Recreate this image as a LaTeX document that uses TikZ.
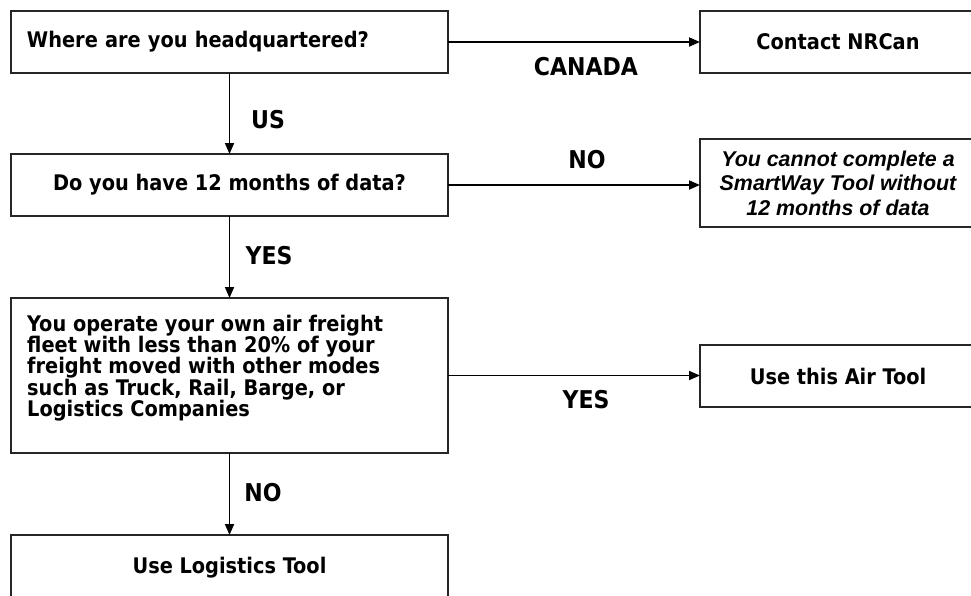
\documentclass[tikz,border=0pt]{standalone}
\usepackage{fontspec}
\setmainfont{DejaVu Sans Condensed}
\newfontfamily\itfont{Liberation Sans}
\usetikzlibrary{arrows.meta}
\begin{document}
\begin{tikzpicture}[x=1pt,y=-1pt,
  box/.style={draw=black!85, line width=1.7pt, fill=white, inner sep=0pt, outer sep=0pt,
    font=\bfseries\fontsize{21.5}{21.3}\selectfont},
  txt/.style={font=\bfseries\fontsize{21.5}{21.3}\selectfont, inner sep=0pt, align=left},
  lbl/.style={font=\bfseries\fontsize{24.5}{26}\selectfont, inner sep=0pt},
  arr/.style={line width=1.8pt, -{Triangle[length=11pt,width=9pt]}}]
\useasboundingbox (0,0) rectangle (971,595);
\fill[white] (0,0) rectangle (971,595);
\clip (0,0) rectangle (971,595);
% left column
\node[box, minimum width=437pt, minimum height=62pt, text width=405pt, align=left] (hq) at (229.5,42) {Where are you headquartered?};
\node[box, minimum width=437pt, minimum height=62pt, align=center] (q12) at (229.5,185) {Do you have 12 months of data?};
\node[box, minimum width=437pt, minimum height=155pt] (air) at (229.5,375.5) {};
\node[txt, anchor=west] (airtxt) at (27,368) {You operate your own air freight\\fleet with less than 20\% of your\\freight moved with other modes\\such as Truck, Rail, Barge, or\\Logistics Companies};
\node[box, minimum width=437pt, minimum height=66pt, align=center] (logi) at (229.5,568) {Use Logistics Tool};
% right column
\node[box, minimum width=276pt, minimum height=62pt, align=center] (nrcan) at (838,42) {Contact NRCan};
\node[box, minimum width=276pt, minimum height=88pt, align=center,
  font=\itfont\bfseries\itshape\fontsize{21.4}{24.5}\selectfont] (cannot) at (838,183) {You cannot complete a\\SmartWay Tool without\\12 months of data};
\node[box, minimum width=276pt, minimum height=62pt, align=center] (airtool) at (838,376) {Use this Air Tool};
% connectors
\draw[arr] (hq.east) -- (hq.east -| nrcan.west);
\draw[arr] (q12.east) -- (q12.east -| cannot.west);
\draw[arr] (air.east) -- (air.east -| airtool.west);
\draw[arr] (hq.south) -- (q12.north);
\draw[arr] (q12.south) -- (air.north);
\draw[arr] (air.south) -- (logi.north);
% labels
\node[lbl] (lcanada) at (586,67) {CANADA};
\node[lbl] (lus) at (268,120) {US};
\node[lbl] (lno1) at (587,160) {NO};
\node[lbl] (lyes1) at (269,256) {YES};
\node[lbl] (lyes2) at (586,400) {YES};
\node[lbl] (lno2) at (263,493) {NO};
\end{tikzpicture}
\end{document}
